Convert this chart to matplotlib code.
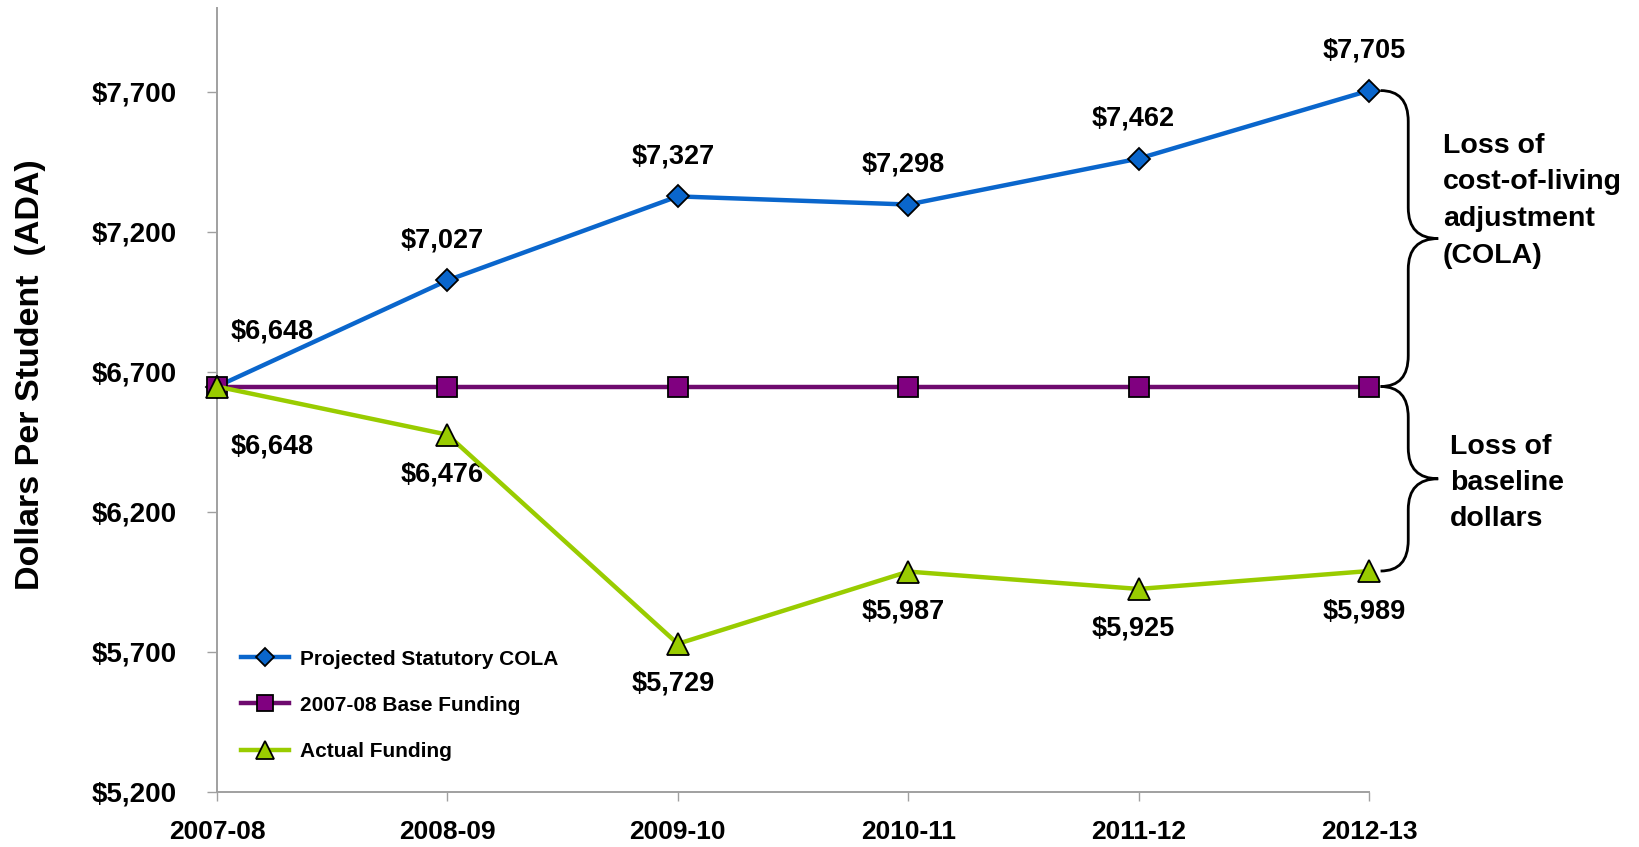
import numpy as np
import matplotlib
matplotlib.use("Agg")
import matplotlib.pyplot as plt
from matplotlib.path import Path
from matplotlib.patches import PathPatch

plt.rcParams['font.family'] = ['Liberation Sans', 'DejaVu Sans']
plt.rcParams['font.weight'] = 'bold'

# data
years = ['2007-08', '2008-09', '2009-10', '2010-11', '2011-12', '2012-13']
cola = [6648, 7027, 7327, 7298, 7462, 7705]
base = [6648, 6648, 6648, 6648, 6648, 6648]
actual = [6648, 6476, 5729, 5987, 5925, 5989]
yticks = [5200, 5700, 6200, 6700, 7200, 7700]

blue = '#0A66CC'
purple = '#6E0A6E'
green = '#99CC00'

fig = plt.figure(figsize=(16.4, 8.47), dpi=100)
ax = fig.add_axes([0.1323, 0.065, 0.7025, 0.9256])
x = np.arange(len(years))

ax.plot(x, cola, color=blue, lw=3.2, marker='D', ms=11, mfc=blue, mec='black',
        mew=1.3, label='Projected Statutory COLA', clip_on=False, zorder=3)
ax.plot(x, base, color=purple, lw=3.2, marker='s', ms=15, mfc='#800080', mec='black',
        mew=1.3, label='2007-08 Base Funding', clip_on=False, zorder=4)
ax.plot(x, actual, color=green, lw=3.2, marker='^', ms=16, mfc=green, mec='black',
        mew=1.3, label='Actual Funding', clip_on=False, zorder=5)

# value labels
for i, v in enumerate(cola):
    off = (55, 55) if i == 0 else (-5, 40)
    ax.annotate('${:,}'.format(v), (x[i], v), xytext=off, textcoords='offset pixels',
                ha='center', va='center', fontsize=19.5, fontweight='bold')
for i, v in enumerate(actual):
    off = (55, -60) if i == 0 else (-5, -40)
    ax.annotate('${:,}'.format(v), (x[i], v), xytext=off, textcoords='offset pixels',
                ha='center', va='center', fontsize=19.5, fontweight='bold')

ax.set_xlim(0, len(years) - 1)
ax.set_ylim(5200, 8000)
ax.set_xticks(x)
ax.set_xticklabels(years, fontsize=19, fontweight='bold')
ax.set_yticks(yticks)
ax.set_yticklabels(['${:,}'.format(t) for t in yticks], fontsize=20, fontweight='bold')
ax.tick_params(axis='y', length=7.5, width=1, color='#A0A0A0', pad=21.5)
ax.tick_params(axis='x', length=6.5, width=1, color='#A0A0A0', pad=14)
for s in ['top', 'right']:
    ax.spines[s].set_visible(False)
for s in ['left', 'bottom']:
    ax.spines[s].set_color('#A0A0A0')
    ax.spines[s].set_linewidth(1.4)

ax.set_ylabel('Dollars Per Student  (ADA)', fontsize=24.5, fontweight='bold')
ax.yaxis.set_label_coords(-0.148, 0.532)

leg = ax.legend(loc='upper left', bbox_to_anchor=(0.147, 0.233), bbox_transform=fig.transFigure,
                frameon=False, fontsize=15, handlelength=2.3, handletextpad=0.55,
                labelspacing=1.3, borderpad=0, borderaxespad=0, markerscale=0.8)


# curly braces on the right
def brace(y_top, y_bot, x0, x1, x2, r):
    ym = (y_top + y_bot) / 2
    verts = [(x0, y_top), (x1, y_top), (x1, y_top - r),
             (x1, ym + r),
             (x1, ym), (x2, ym),
             (x1, ym), (x1, ym - r),
             (x1, y_bot + r),
             (x1, y_bot), (x0, y_bot)]
    codes = [Path.MOVETO, Path.CURVE3, Path.CURVE3,
             Path.LINETO,
             Path.CURVE3, Path.CURVE3,
             Path.CURVE3, Path.CURVE3,
             Path.LINETO,
             Path.CURVE3, Path.CURVE3]
    p = PathPatch(Path(verts, codes), fill=False, lw=2, ec='black', clip_on=False)
    ax.add_patch(p)
    return ym


last = len(years) - 1
ym1 = brace(cola[-1], base[-1], last + 0.05, last + 0.17, last + 0.30, 110)
ym2 = brace(base[-1], actual[-1], last + 0.05, last + 0.17, last + 0.30, 110)

ax.text(last + 0.32, ym1 + 135, 'Loss of\ncost-of-living\nadjustment\n(COLA)', ha='left',
        va='center', fontsize=20.5, fontweight='bold', linespacing=1.53, clip_on=False)
ax.text(last + 0.35, ym2 - 15, 'Loss of\nbaseline\ndollars', ha='left',
        va='center', fontsize=20.5, fontweight='bold', linespacing=1.5, clip_on=False)

fig.savefig('out.png', dpi=100)
